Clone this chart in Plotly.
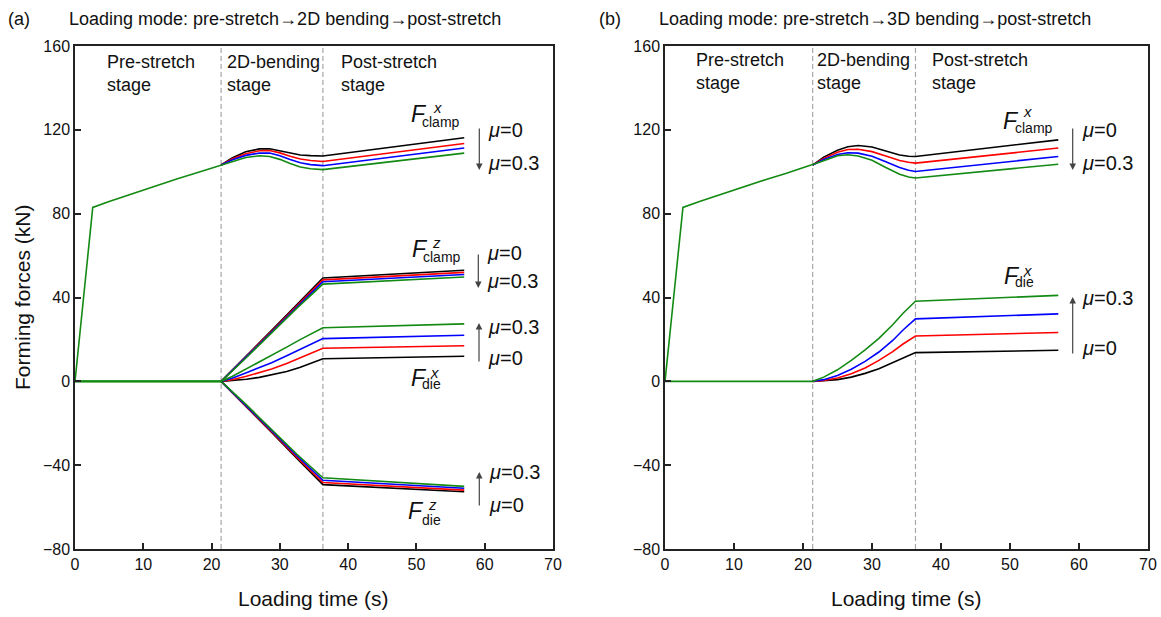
import plotly.graph_objects as go

W, H = 1161, 617
FONT = "Liberation Sans, Arial, sans-serif"

# ---------------- data ----------------
stage_bounds = [21.4, 36.3]
x_ticks = [0, 10, 20, 30, 40, 50, 60, 70]
y_ticks = [-80, -40, 0, 40, 80, 120, 160]
colors = {"0": "#000000", "0.1": "#ff0000", "0.2": "#0000ff", "0.3": "#138a13"}
mu_order = ["0", "0.1", "0.2", "0.3"]

# pre-stretch stage (shared by all friction coefficients)
t_pre = [0, 2.6, 5, 7.5, 10, 12.5, 15, 17.5, 21.4]
clampx_pre = [0, 83, 85.8, 88.6, 91.4, 94.1, 96.7, 99.2, 103.2]
zero_pre = [0, 0, 0, 0, 0, 0, 0, 0, 0]

# (a) 2D bending
tA_clampx = [21.4, 23, 25, 27, 28.5, 30, 31.5, 33, 34.5, 36.3, 57]
A_clampx = {
    "0":   [103.2, 106.6, 109.5, 110.9, 111.0, 110.0, 108.7, 108.0, 107.7, 107.5, 116.2],
    "0.1": [103.2, 106.1, 108.6, 110.0, 110.1, 109.0, 107.4, 106.1, 105.4, 104.9, 113.5],
    "0.2": [103.2, 105.6, 107.8, 108.9, 108.9, 107.6, 105.8, 104.3, 103.4, 102.9, 111.3],
    "0.3": [103.2, 105.0, 106.8, 107.6, 107.3, 105.9, 103.9, 102.3, 101.4, 101.0, 108.9],
}
tA_z = [21.4, 25, 28.8, 32.5, 36.3, 57]
A_clampz = {
    "0":   [0, 11.6, 24.3, 36.6, 49.3, 53.0],
    "0.1": [0, 11.4, 23.9, 36.0, 48.4, 52.0],
    "0.2": [0, 11.2, 23.5, 35.4, 47.5, 51.0],
    "0.3": [0, 11.0, 23.1, 34.9, 46.4, 49.8],
}
A_diez = {
    "0":   [0, -11.7, -24.4, -36.8, -49.3, -52.7],
    "0.1": [0, -11.5, -24.0, -36.2, -48.3, -51.9],
    "0.2": [0, -11.2, -23.5, -35.5, -47.2, -51.0],
    "0.3": [0, -10.9, -23.0, -34.8, -46.0, -50.1],
}
tA_diex = [21.4, 23, 25.1, 27, 28.8, 31, 32.9, 34.5, 36.3, 57]
A_diex = {
    "0":   [0, 0.3, 1.0, 1.9, 3.0, 4.7, 6.6, 8.5, 10.8, 12.0],
    "0.1": [0, 0.8, 2.4, 4.1, 5.9, 8.5, 11.0, 13.3, 15.8, 17.0],
    "0.2": [0, 1.5, 4.1, 6.5, 8.9, 12.2, 15.2, 17.6, 20.4, 22.0],
    "0.3": [0, 2.3, 5.9, 9.2, 12.4, 16.3, 19.8, 22.6, 25.6, 27.4],
}

# (b) 3D bending
tB_clampx = [21.4, 23, 25, 26.5, 28, 30, 32, 34, 35.3, 36.3, 57]
B_clampx = {
    "0":   [103.2, 107.0, 110.3, 111.9, 112.5, 111.8, 109.9, 108.0, 107.4, 107.3, 115.2],
    "0.1": [103.2, 106.4, 109.3, 110.6, 110.7, 109.6, 107.5, 105.4, 104.5, 104.1, 111.3],
    "0.2": [103.2, 105.8, 108.2, 109.1, 108.9, 107.4, 104.8, 102.0, 100.7, 100.1, 107.3],
    "0.3": [103.2, 105.2, 107.6, 108.1, 107.5, 105.5, 102.0, 98.8, 97.5, 97.0, 103.6],
}
tB_diex = [21.4, 23, 25, 27, 29, 31, 33, 34.5, 36.3, 57]
B_diex = {
    "0":   [0, 0.2, 0.8, 2.0, 3.8, 6.0, 8.8, 11.2, 13.7, 14.8],
    "0.1": [0, 0.4, 1.6, 3.6, 6.4, 10.0, 14.2, 17.8, 21.6, 23.3],
    "0.2": [0, 0.8, 2.8, 5.8, 9.5, 14.0, 19.5, 24.5, 29.8, 32.2],
    "0.3": [0, 2.0, 5.5, 10.0, 15.0, 20.5, 27.0, 32.5, 38.2, 41.0],
}

stage_text = ["Pre-stretch<br>stage", "2D-bending<br>stage", "Post-stretch<br>stage"]
titles = ["Loading mode: pre-stretch→2D bending→post-stretch",
          "Loading mode: pre-stretch→3D bending→post-stretch"]

# ---------------- figure ----------------
fig = go.Figure()


def add_group(t_stage, vals, pre, xa, ya):
    for mu in mu_order:
        # the shared pre-stretch segment is drawn once, with the last (green) curve on top
        if mu == mu_order[-1]:
            xs, ys = t_pre[:-1] + t_stage, pre[:-1] + vals[mu]
        else:
            xs, ys = t_stage, vals[mu]
        fig.add_trace(go.Scatter(
            x=xs, y=ys, mode="lines", line=dict(color=colors[mu], width=1.6),
            xaxis=xa, yaxis=ya, showlegend=False, hoverinfo="skip"))


add_group(tA_clampx, A_clampx, clampx_pre, "x", "y")
add_group(tA_z, A_clampz, zero_pre, "x", "y")
add_group(tA_z, A_diez, zero_pre, "x", "y")
add_group(tA_diex, A_diex, zero_pre, "x", "y")
add_group(tB_clampx, B_clampx, clampx_pre, "x2", "y2")
add_group(tB_diex, B_diex, zero_pre, "x2", "y2")

# dashed stage boundaries
for xr in ["x", "x2"]:
    for b in stage_bounds:
        fig.add_shape(type="line", xref=xr, yref="y domain", x0=b, x1=b, y0=0, y1=1,
                      line=dict(color="#a8a8a8", width=1.2, dash="5px,3px"), layer="below")

axis_common = dict(showline=True, mirror=True, linecolor="#222", linewidth=1.5,
                   ticks="inside", ticklen=6, tickwidth=1.5, tickcolor="#222",
                   showgrid=False, zeroline=False, automargin=False,
                   tickfont=dict(family=FONT, size=16, color="#111"))
ydom = [1 - 549 / H, 1 - 46 / H]
fig.update_layout(
    width=W, height=H, margin=dict(l=0, r=0, t=0, b=0, autoexpand=False),
    paper_bgcolor="white", plot_bgcolor="white",
    xaxis=dict(domain=[75 / W, 553 / W], range=[0, 70], tickvals=x_ticks, anchor="y", **axis_common),
    yaxis=dict(domain=ydom, range=[-80, 160], tickvals=y_ticks, anchor="x", **axis_common),
    xaxis2=dict(domain=[665 / W, 1148 / W], range=[0, 70], tickvals=x_ticks, anchor="y2", **axis_common),
    yaxis2=dict(domain=ydom, range=[-80, 160], tickvals=y_ticks, anchor="x2", **axis_common),
)


def P(px, py):
    return px / W, 1 - py / H


def text(px, py, s, size=18, xanchor="left", yanchor="middle", angle=0, align="left"):
    x, y = P(px, py)
    fig.add_annotation(x=x, y=y, xref="paper", yref="paper", text=s, showarrow=False,
                       xanchor=xanchor, yanchor=yanchor, textangle=angle, align=align,
                       borderpad=0, font=dict(family=FONT, size=size, color="#111"))


def arrow(px, py_tail, py_head):
    x, y = P(px, py_head)
    fig.add_annotation(x=x, y=y, ax=0, ay=py_tail - py_head, xref="paper", yref="paper",
                       axref="pixel", ayref="pixel", text="", showarrow=True,
                       arrowhead=2, arrowsize=1.1, arrowwidth=1.2, arrowcolor="#444")


def flabel(fx, fy, sup, sx, sy, sub, bx, by):
    text(fx, fy, "<i>F</i>", size=23)
    text(sx, sy, "<i>" + sup + "</i>", size=15)
    text(bx, by, sub, size=14)


# titles
text(7, 19, "(a)", size=18)
text(68, 19, titles[0], size=18)
text(598, 19, "(b)", size=18)
text(658, 19, titles[1], size=18)

# axis titles
text(314, 598, "Loading time (s)", size=21, xanchor="center")
text(906, 598, "Loading time (s)", size=21, xanchor="center")
text(22, 297, "Forming forces (kN)", size=21, xanchor="center", angle=-90)

# stage labels
for (px, py), s in zip([(106, 51), (226, 51), (340, 51)], stage_text):
    text(px, py, s, size=18, yanchor="top")
for (px, py), s in zip([(695, 49), (816, 49), (931, 49)], stage_text):
    text(px, py, s, size=18, yanchor="top")

# force labels
flabel(410, 114, "x", 432, 108, "clamp", 421, 121.5)
flabel(411, 249, "z", 431, 242, "clamp", 422, 257.5)
flabel(410, 378, "x", 429, 372, "die", 421, 384.5)
flabel(407, 511, "z", 427, 504, "die", 421, 519.5)
flabel(1002, 121, "x", 1022, 111, "clamp", 1014, 128)
flabel(1003, 276, "x", 1022, 270, "die", 1014, 282)

# friction arrows and labels
arrow(479.3, 127, 170)
text(487, 130, "<i>μ</i>=0", size=20)
text(487, 163, "<i>μ</i>=0.3", size=20)
arrow(478.3, 253, 288)
text(486, 253, "<i>μ</i>=0", size=20)
text(486, 281, "<i>μ</i>=0.3", size=20)
arrow(479, 363, 323)
text(487, 327, "<i>μ</i>=0.3", size=20)
text(487, 358, "<i>μ</i>=0", size=20)
arrow(479.3, 507, 472)
text(488, 472, "<i>μ</i>=0.3", size=20)
text(488, 505, "<i>μ</i>=0", size=20)
arrow(1072.7, 127, 170)
text(1081, 130, "<i>μ</i>=0", size=20)
text(1081, 163, "<i>μ</i>=0.3", size=20)
arrow(1072.7, 355, 297)
text(1081, 298, "<i>μ</i>=0.3", size=20)
text(1081, 348, "<i>μ</i>=0", size=20)

fig.write_html("out.html", config={"displayModeBar": False},
               post_script="document.body.style.margin='0px';document.body.style.padding='0px';")
